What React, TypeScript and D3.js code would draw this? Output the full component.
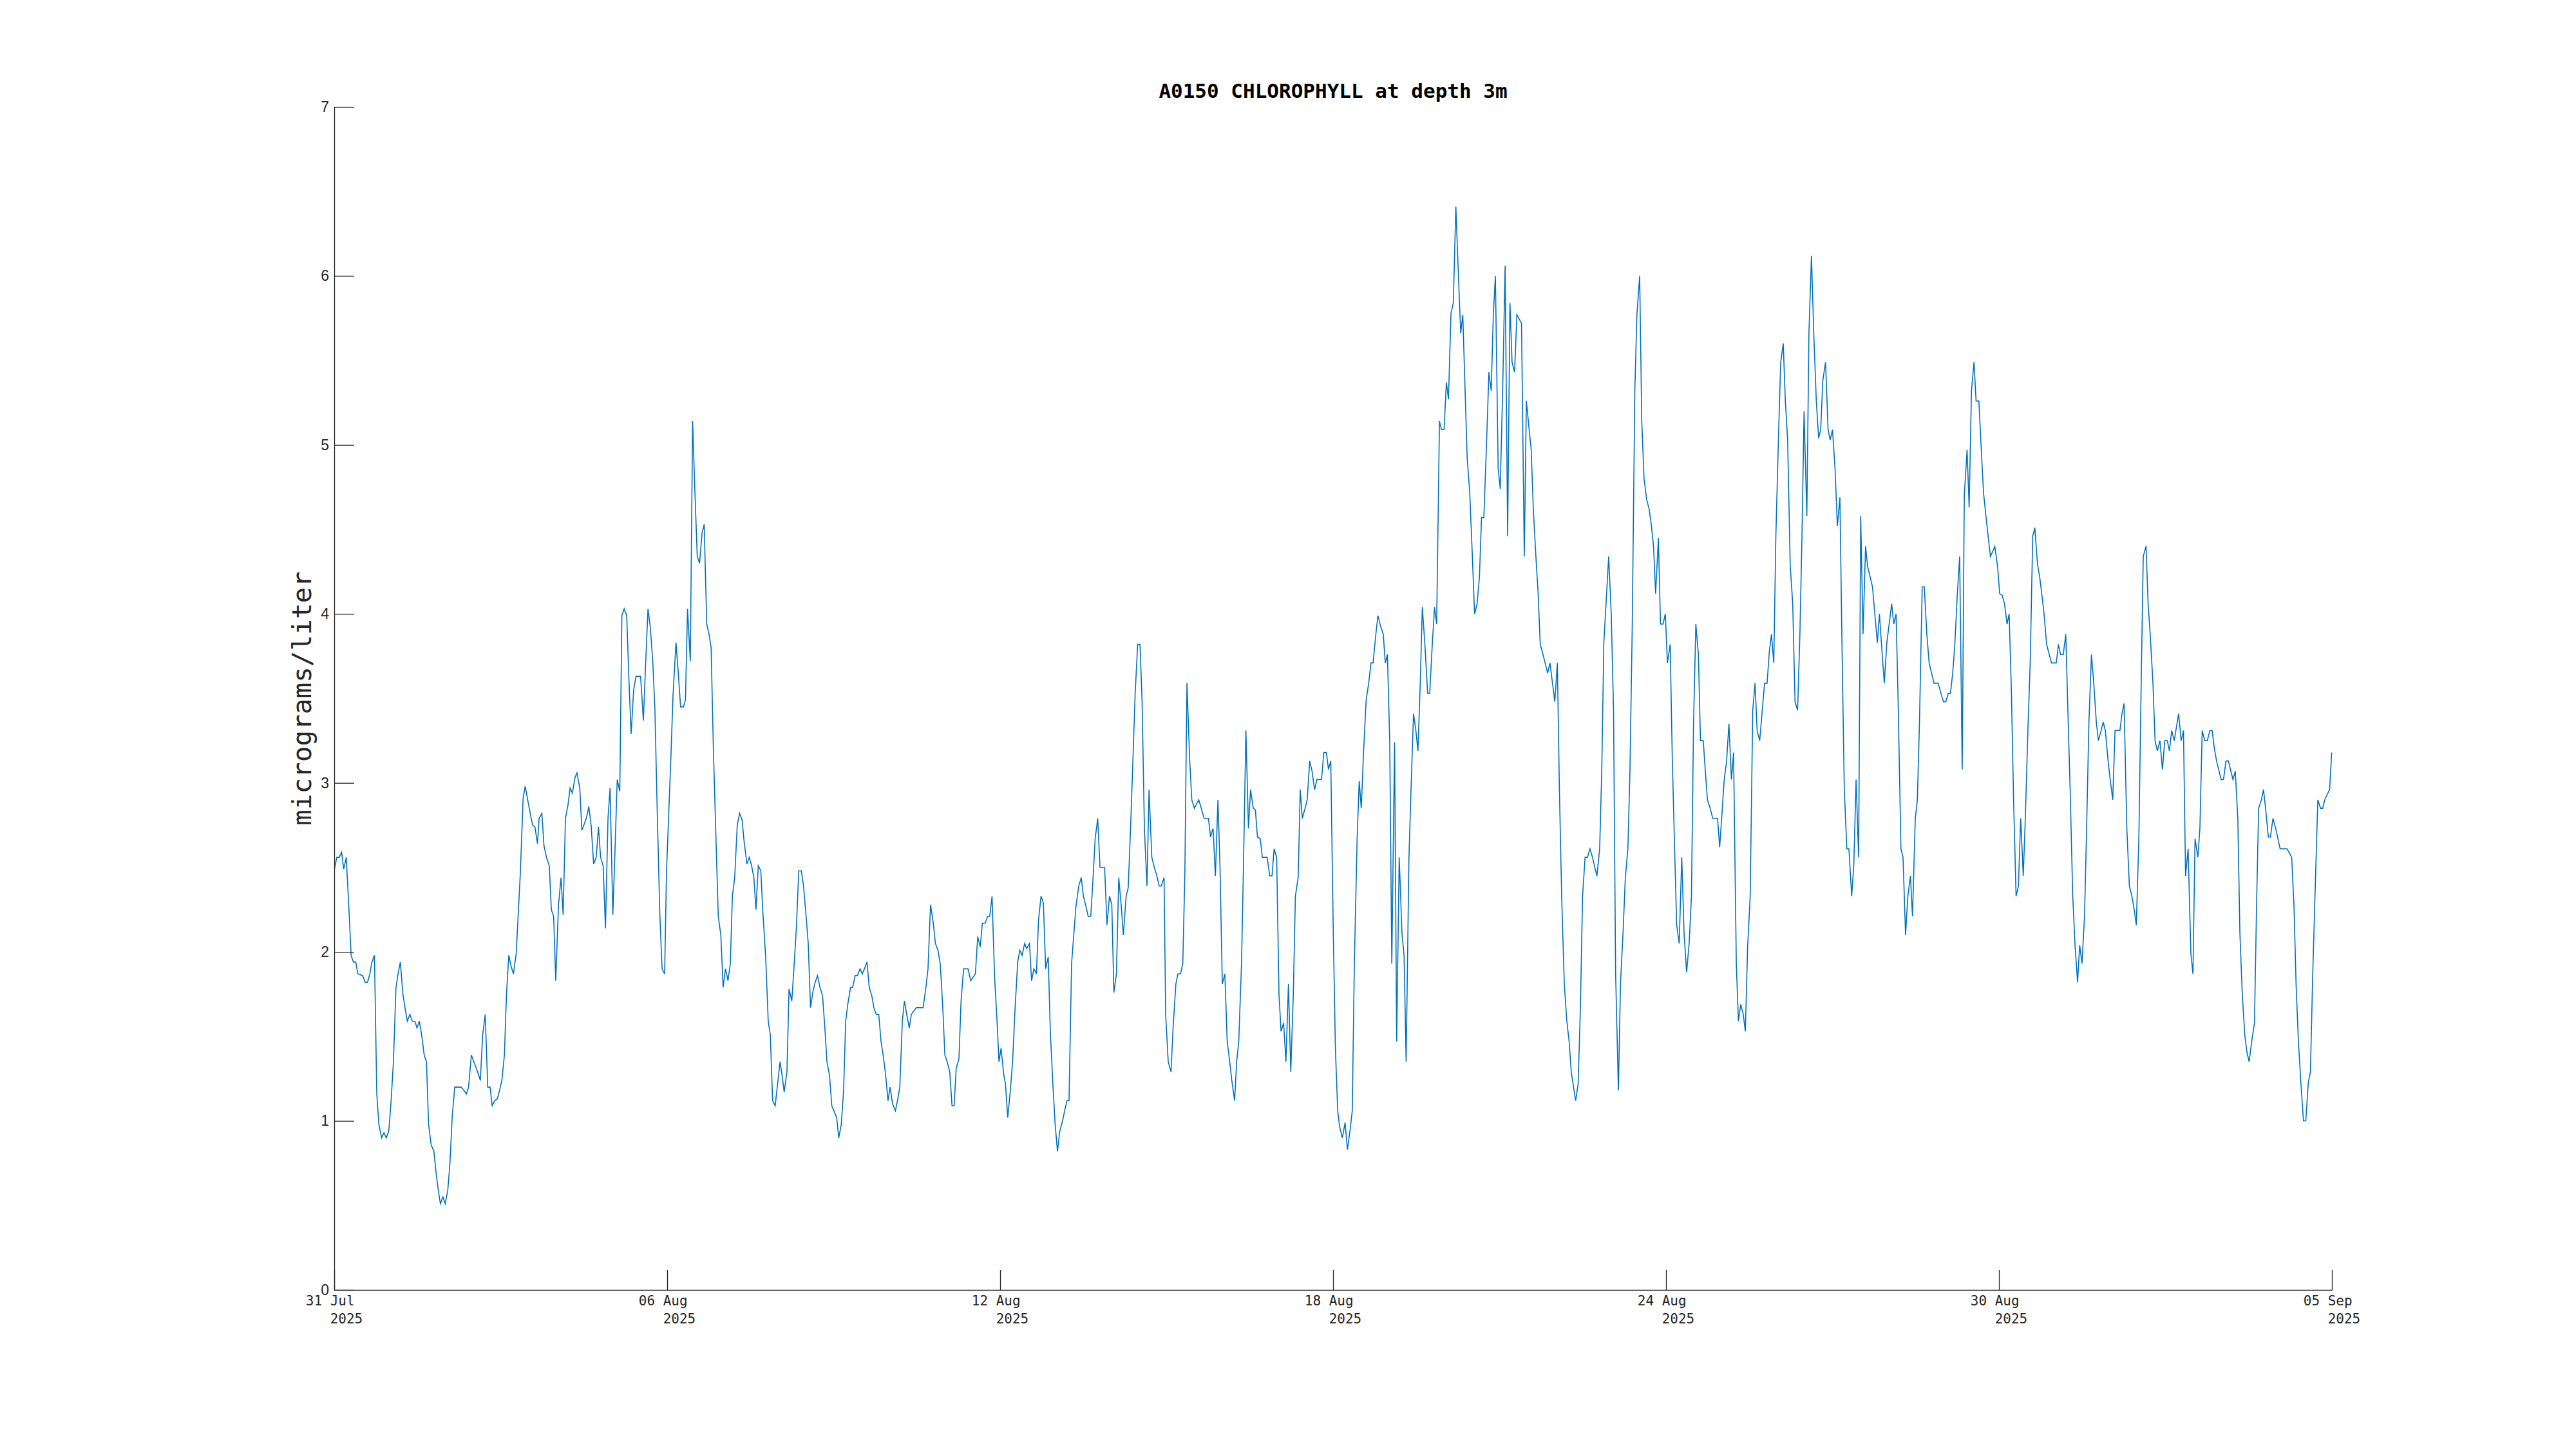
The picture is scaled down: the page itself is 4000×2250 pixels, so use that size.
import React, { useEffect, useRef } from 'react';
import * as d3 from 'd3';

// hours since 31 Jul 2025 00:00 UTC
const hours = [
  0.1, 1.1, 2.2, 3.2, 4.1, 5.2, 6.3, 7.3, 8.3, 9.3, 10.2, 12.3, 13.4, 14.4, 15.4, 16.3, 17.4, 18.4, 19.3, 20.5,
  21.5, 22.5, 23.6, 24.6, 25.6, 26.7, 27.6, 28.6, 29.7, 30.6, 31.6, 32.7, 33.8, 34.9, 35.8, 36.8, 37.8, 38.9, 39.9, 40.8,
  41.9, 43.1, 44.0, 45.0, 45.9, 47.0, 48.0, 49.1, 50.0, 51.0, 52.1, 54.9, 56.1, 57.2, 58.1, 59.3, 60.4, 61.5, 63.2, 64.2,
  65.3, 66.4, 67.4, 68.3, 69.4, 70.5, 71.5, 72.5, 73.6, 74.5, 75.5, 76.6, 77.5, 78.7, 79.6, 80.5, 81.7, 82.6, 83.8, 84.9,
  85.8, 86.8, 87.9, 88.6, 89.8, 90.7, 91.8, 93.0, 93.9, 94.9, 95.8, 97.0, 98.1, 99.0, 100.0, 101.1, 102.0, 103.0, 104.1, 105.0,
  106.2, 107.1, 108.2, 109.2, 110.1, 111.1, 112.2, 113.3, 114.3, 115.2, 116.3, 117.3, 118.4, 119.3, 120.5, 121.4, 122.4, 123.5, 124.4, 125.4,
  126.5, 127.4, 128.4, 129.5, 130.5, 132.5, 133.7, 134.6, 135.7, 136.7, 137.8, 138.7, 139.7, 140.8, 141.8, 142.9,
  143.7, 144.7, 145.6, 146.5, 147.8, 148.7, 149.8, 151.0, 151.9, 152.8, 154.0, 155.0, 156.0, 157.0, 158.0, 159.1, 160.0, 161.1, 162.1, 163.0,
  164.0, 165.1, 166.1, 167.2, 168.2, 169.2, 170.3, 171.3, 172.2, 173.2, 174.3, 175.3, 176.4, 177.3, 178.5, 179.5, 180.5, 181.5, 182.4, 183.4,
  184.5, 185.4, 186.6, 187.7, 188.6, 189.6, 190.7, 191.6, 192.8, 193.7, 194.6, 195.8, 196.7, 197.9, 198.8, 199.9, 200.9, 202.0, 202.9, 204.1,
  205.0, 206.0, 207.1, 208.0, 209.0, 210.1, 211.2, 212.2, 213.1, 214.2, 215.2, 216.1, 217.3, 218.2, 219.3, 220.3, 221.2, 222.1, 223.3, 224.2,
  225.3, 226.3, 227.4, 228.4, 229.3, 230.4, 231.4, 232.5, 233.4, 234.4, 235.5, 236.5, 237.6, 238.5, 239.5, 240.4, 241.5, 242.7, 243.6, 244.6,
  245.7, 246.6, 247.6, 248.7, 249.6, 251.7, 254.7, 255.9, 256.8, 257.9, 259.1, 260.0, 261.1, 262.1, 263.2, 264.1, 265.1, 266.2, 267.2, 268.1,
  269.0, 270.2, 271.1, 272.2, 274.1, 275.3, 277.3, 278.3, 279.4, 280.3, 281.5, 282.6, 283.5, 284.5, 285.6, 286.6, 287.5, 288.4, 289.6,
  290.3, 291.3, 292.4, 293.4, 294.4, 295.6, 296.5, 297.5, 298.6, 299.5, 300.7, 301.6, 302.6, 303.7, 304.6, 305.7, 306.7, 307.7, 308.8, 309.7,
  310.8, 311.8, 312.8, 313.8, 315.0, 315.9, 316.9, 317.8, 318.9, 319.9, 320.8, 322.0, 323.1, 324.0, 325.1, 326.1, 327.2, 328.2, 329.1, 330.2,
  331.2, 333.2, 334.2, 335.3, 336.3, 337.2, 338.3, 339.3, 340.4, 341.3, 342.5, 343.4, 344.4, 345.3, 346.4, 347.5, 348.5, 349.4, 350.4, 351.5,
  352.4, 353.6, 354.7, 355.8, 356.8, 357.7, 358.9, 359.6, 360.7, 361.9, 362.8, 364.0, 364.9, 366.0, 367.0, 367.9, 368.8, 370.0, 370.9, 372.0,
  373.9, 375.0, 376.2, 378.1, 379.0, 380.1, 381.1, 382.2, 383.1, 384.1, 385.2, 386.2, 387.3, 388.2, 389.4, 390.3, 391.2, 392.4, 393.3, 394.3,
  395.4, 396.3, 397.5, 398.4, 399.3, 400.5, 401.4, 403.5, 404.6, 405.6, 406.5, 407.6, 408.6, 409.5, 410.6, 411.6, 412.7, 413.7, 414.8, 415.7,
  416.9, 417.8, 418.7, 419.9, 420.8, 421.9, 422.9, 424.0, 425.0, 427.0, 428.0, 429.1, 430.0, 431.0, 432.1, 433.0, 434.0, 434.7,
  435.1, 436.0, 437.2, 438.2, 439.3, 440.3, 441.2, 442.4, 443.3, 444.2, 445.2, 446.3, 447.4, 448.4, 449.3, 450.5, 451.4, 452.5, 453.7, 454.6,
  455.5, 456.5, 457.4, 458.6, 459.5, 460.6, 461.8, 462.7, 463.6, 464.8, 465.7, 466.8, 467.8, 468.7, 469.7, 470.6, 471.7, 472.9, 473.8, 474.9,
  475.9, 476.8, 478.0, 478.9, 480.0, 481.0, 481.9, 483.0, 484.0, 485.1, 486.0, 487.2, 488.1, 489.1, 490.0, 491.1, 492.3, 493.2, 494.3, 495.3,
  496.2, 497.2, 498.3, 499.4, 500.4, 501.3, 502.2, 503.4, 504.3, 505.4, 506.4, 507.5, 508.5, 509.4, 510.5, 511.5, 513.5, 514.7, 515.6, 516.6,
  517.7, 518.6, 519.8, 520.7, 521.6, 522.8, 523.7, 524.8, 525.8, 526.9, 527.9, 529.0, 529.9, 530.9, 532.0, 533.1, 534.1, 535.0, 535.9, 536.9,
  538.0, 539.0, 539.9, 541.0, 542.0, 543.1, 544.2, 545.2, 546.1, 547.3, 548.2, 549.1, 550.3, 551.2, 552.3, 553.3, 554.2, 555.4, 556.3, 557.4,
  558.4, 559.5, 560.4, 561.4, 562.5, 563.4, 564.6, 565.5, 566.5, 567.6, 568.7, 569.7, 570.6, 571.5, 572.7, 573.6, 574.7, 575.7, 576.6, 577.8,
  578.7, 579.6,
  580.6, 581.7, 582.8, 583.8, 584.9, 586.0, 587.0, 587.9, 588.9, 590.0, 590.9, 592.1, 593.0, 593.9, 595.1, 596.2, 598.3, 599.2, 600.2, 601.1,
  602.2, 603.2, 604.3, 605.2, 606.4, 607.3, 608.3, 609.4, 610.3, 611.3, 612.4, 613.5, 614.5, 615.4, 616.5, 617.5, 618.6, 619.7, 620.7, 621.6,
  622.6, 623.5, 624.6, 625.6, 626.7, 627.6, 628.6, 629.7, 630.8, 631.8, 632.9, 633.9, 634.8, 635.7, 636.9, 637.8, 638.9, 639.9, 641.0, 642.0,
  642.9, 643.8, 645.0, 646.1, 647.0, 648.0, 649.1, 650.1, 651.2, 652.1, 653.1, 654.2, 655.1, 656.3, 657.2, 658.2, 659.3, 660.2, 661.2, 662.3,
  663.2, 665.3, 666.3, 667.4, 668.3, 669.5, 670.4, 671.5, 672.5, 673.6, 674.5, 675.5, 676.4, 677.6, 678.5, 679.6, 680.6, 681.7, 682.6, 683.8,
  684.7, 685.6, 686.8, 687.7, 688.8, 689.8, 691.9, 693.7, 694.9, 696.0, 697.0, 698.1, 699.0, 700.0, 700.9, 702.0, 703.0, 704.1, 705.0, 706.2,
  707.1, 708.1, 709.2, 710.1, 711.3, 712.4, 713.3, 714.5, 715.4, 716.3, 717.3, 718.2, 719.4, 720.3, 721.4, 722.4, 723.5, 724.4,
  725.4, 726.3, 727.4, 728.4, 729.4, 730.5, 731.4, 732.5, 733.5, 734.6, 735.5, 736.7, 737.6, 738.5, 739.5, 740.6, 742.7, 744.8, 745.7, 746.6,
  747.8, 748.9, 749.8, 750.8, 751.9, 752.9, 754.0, 754.9, 755.9, 757.0, 757.9, 758.9, 760.0, 761.0, 762.1, 763.0, 764.2, 765.1, 766.0, 767.2,
  768.1, 769.2, 770.2, 772.3, 773.2, 774.1, 775.3, 776.4, 777.5, 778.5, 779.4, 780.5, 781.5, 782.4, 783.6, 784.5, 785.4, 786.6, 787.5, 788.5,
  789.6, 790.7, 791.7, 792.8, 793.7, 794.7, 795.8, 797.7, 798.8, 799.8, 800.7, 801.8, 803.0, 803.9, 804.8, 806.0, 806.9, 807.9, 809.0, 810.1,
  811.2, 812.2, 813.1, 814.1, 816.1, 817.1, 818.2, 819.2, 821.2, 822.2, 823.3, 824.2, 825.2, 826.3, 827.2, 828.2, 829.3, 830.5, 831.4, 832.3,
  833.5, 834.4, 835.3, 836.5, 837.4, 838.5, 839.7, 841.6, 844.6, 846.6, 847.6, 848.5, 849.5, 850.6, 851.7, 852.7, 853.8, 854.7, 855.7, 856.8,
  857.9, 859.1, 860.0, 860.9, 861.9, 863.0, 863.9,
];

// chlorophyll, micrograms/liter
const chl = [
  2.49, 2.56, 2.56, 2.59, 2.49, 2.56, 2.27, 1.98, 1.94, 1.94, 1.87, 1.86, 1.82, 1.82, 1.87, 1.94, 1.98, 1.16, 0.98, 0.90,
  0.93, 0.90, 0.94, 1.12, 1.35, 1.79, 1.87, 1.94, 1.75, 1.67, 1.59, 1.63, 1.59, 1.59, 1.55, 1.59, 1.51, 1.39, 1.35, 0.98,
  0.86, 0.82, 0.70, 0.59, 0.51, 0.55, 0.51, 0.59, 0.74, 1.02, 1.20, 1.20, 1.18, 1.16, 1.20, 1.39, 1.35, 1.31, 1.24, 1.51,
  1.63, 1.20, 1.20, 1.09, 1.12, 1.13, 1.18, 1.24, 1.39, 1.75, 1.98, 1.91, 1.87, 1.99, 2.23, 2.47, 2.91, 2.98, 2.89, 2.81,
  2.75, 2.74, 2.64, 2.79, 2.82, 2.63, 2.56, 2.51, 2.25, 2.21, 1.83, 2.28, 2.44, 2.22, 2.79, 2.87, 2.97, 2.94, 3.03, 3.06,
  2.97, 2.72, 2.76, 2.80, 2.86, 2.75, 2.52, 2.56, 2.74, 2.56, 2.51, 2.14, 2.79, 2.97, 2.22, 2.59, 3.02, 2.95, 3.99, 4.03,
  3.99, 3.63, 3.29, 3.55, 3.63, 3.63, 3.37, 3.68, 4.03, 3.92, 3.71, 3.43, 2.83, 2.23, 1.90, 1.87,
  2.47, 2.83, 3.15, 3.51, 3.83, 3.67, 3.45, 3.45, 3.49, 4.03, 3.72, 5.14, 4.72, 4.34, 4.30, 4.48, 4.53, 3.94, 3.88, 3.80,
  3.19, 2.67, 2.21, 2.10, 1.79, 1.90, 1.83, 1.93, 2.33, 2.44, 2.75, 2.82, 2.78, 2.65, 2.52, 2.56, 2.51, 2.44, 2.25, 2.51,
  2.48, 2.23, 1.97, 1.59, 1.51, 1.12, 1.09, 1.20, 1.35, 1.27, 1.17, 1.29, 1.78, 1.71, 1.90, 2.15, 2.48, 2.48, 2.40, 2.21,
  2.05, 1.67, 1.77, 1.82, 1.86, 1.79, 1.74, 1.55, 1.35, 1.27, 1.09, 1.06, 1.02, 0.90, 0.98, 1.18, 1.59, 1.69, 1.79, 1.79,
  1.86, 1.86, 1.90, 1.87, 1.90, 1.94, 1.79, 1.74, 1.67, 1.63, 1.63, 1.47, 1.37, 1.27, 1.12, 1.20, 1.10, 1.06, 1.12, 1.20,
  1.59, 1.71, 1.63, 1.55, 1.63, 1.67, 1.67, 1.79, 1.90, 2.28, 2.17, 2.05, 2.01, 1.93, 1.67, 1.39, 1.35, 1.29, 1.09, 1.09,
  1.31, 1.37, 1.71, 1.90, 1.90, 1.83, 1.87, 2.09, 2.03, 2.17, 2.17, 2.21, 2.21, 2.33, 1.85, 1.61, 1.35, 1.43, 1.27,
  1.22, 1.02, 1.18, 1.35, 1.65, 1.94, 2.01, 1.98, 2.05, 2.02, 2.05, 1.83, 1.90, 1.87, 2.19, 2.33, 2.29, 1.90, 1.97, 1.53,
  1.22, 0.98, 0.82, 0.94, 1.00, 1.06, 1.12, 1.12, 1.93, 2.11, 2.27, 2.39, 2.44, 2.33, 2.27, 2.21, 2.21, 2.44, 2.67, 2.79,
  2.50, 2.50, 2.16, 2.33, 2.28, 1.76, 1.87, 2.44, 2.27, 2.10, 2.33, 2.38, 2.73, 3.08, 3.53, 3.82, 3.82, 3.48, 2.73, 2.39,
  2.96, 2.56, 2.50, 2.45, 2.39, 2.39, 2.44, 1.63, 1.35, 1.29, 1.55, 1.81, 1.87, 1.87, 1.93, 2.47, 3.59, 3.13, 2.90, 2.85,
  2.90, 2.85, 2.79, 2.79, 2.68, 2.73, 2.45, 2.90, 2.50, 1.81, 1.87, 1.47, 1.35, 1.24, 1.12, 1.35, 1.47, 1.93, 2.55, 3.31,
  2.73, 2.96, 2.85, 2.84, 2.68, 2.67, 2.56, 2.56, 2.45, 2.45, 2.61, 2.56, 1.75, 1.53, 1.58, 1.35, 1.81, 1.29, 1.75, 2.33,
  2.44, 2.96, 2.79, 2.85, 2.90, 3.13, 3.07, 2.96, 3.02, 3.02, 3.18, 3.18, 3.08, 3.13, 2.11, 1.43, 1.06, 0.98,
  0.95, 0.90, 0.99, 0.83, 0.94, 1.06, 1.93, 2.67, 3.01, 2.85, 3.19, 3.49, 3.59, 3.71, 3.71, 3.88, 3.99, 3.93, 3.88, 3.71,
  3.76, 3.25, 1.93, 3.24, 1.47, 2.56, 2.11, 1.98, 1.35, 2.55, 2.96, 3.41, 3.31, 3.19, 3.59, 4.04, 3.82, 3.53, 3.53, 3.82,
  4.04, 3.94, 5.14, 5.09, 5.09, 5.37, 5.27, 5.78, 5.84, 6.41, 6.08, 5.66, 5.77, 5.32, 4.92, 4.72, 4.32, 4.00, 4.06, 4.22,
  4.57, 4.57, 4.98, 5.43, 5.32, 5.77, 6.00, 4.86, 4.74, 5.36, 6.06, 4.46, 5.84, 5.49, 5.43, 5.77, 5.72, 4.34, 5.26, 5.12,
  4.97, 4.62, 4.32, 4.12, 3.82, 3.76, 3.71, 3.65, 3.71, 3.59, 3.48, 3.71, 2.95, 2.31, 1.81, 1.59, 1.47, 1.29, 1.21, 1.12,
  1.22, 1.69, 2.33, 2.56, 2.56, 2.61, 2.56, 2.50, 2.45, 2.61, 3.07, 3.83, 4.12, 4.34, 4.00, 3.43, 1.87, 1.18, 1.81, 2.11,
  2.44, 2.61, 3.07, 3.94, 5.32, 5.77, 6.00, 5.14, 4.80, 4.68, 4.62, 4.52, 4.40, 4.12, 4.45, 3.94, 3.94, 4.00, 3.71, 3.82,
  3.15, 2.67,
  2.16, 2.05, 2.56, 2.11, 1.88, 2.05, 2.33, 3.35, 3.94, 3.76, 3.25, 3.25, 3.07, 2.90, 2.85, 2.79, 2.79, 2.62, 2.82, 3.01,
  3.13, 3.35, 3.02, 3.18, 1.93, 1.59, 1.69, 1.63, 1.53, 2.03, 2.33, 3.43, 3.59, 3.31, 3.25, 3.41, 3.59, 3.59, 3.78, 3.88,
  3.71, 4.46, 5.03, 5.49, 5.60, 5.26, 5.03, 4.29, 4.06, 3.48, 3.43, 3.88, 4.46, 5.20, 4.58, 5.66, 6.12, 5.66, 5.26, 5.04,
  5.09, 5.38, 5.49, 5.09, 5.03, 5.09, 4.86, 4.52, 4.69, 3.82, 2.96, 2.61, 2.61, 2.33, 2.51, 3.02, 2.56, 4.58, 3.88, 4.40,
  4.28, 4.16, 4.00, 3.83, 4.00, 3.76, 3.59, 3.83, 3.94, 4.06, 3.94, 4.00, 3.47, 2.61, 2.56, 2.10, 2.33, 2.45, 2.21, 2.79,
  2.90, 3.35, 4.16, 4.16, 3.88, 3.71, 3.59, 3.59, 3.53, 3.48, 3.48, 3.53, 3.53, 3.65, 3.82, 4.12, 4.34, 3.08, 4.70, 4.97,
  4.63, 5.32, 5.49, 5.26, 5.26, 4.96, 4.72, 4.56, 4.45, 4.34, 4.37, 4.40, 4.28, 4.12, 4.11, 4.06, 3.94, 4.00,
  3.53, 2.91, 2.33, 2.39, 2.79, 2.45, 2.79, 3.31, 3.71, 4.46, 4.51, 4.29, 4.22, 4.12, 4.00, 3.82, 3.71, 3.71, 3.82, 3.76,
  3.76, 3.88, 3.43, 2.95, 2.33, 2.04, 1.82, 2.04, 1.93, 2.21, 2.73, 3.36, 3.76, 3.59, 3.36, 3.25, 3.31, 3.36, 3.31, 3.13,
  3.02, 2.90, 3.31, 3.31, 3.41, 3.47, 2.73, 2.39, 2.33, 2.25, 2.16, 2.67, 3.59, 4.34, 4.40, 4.06, 3.88, 3.59, 3.25, 3.19,
  3.25, 3.08, 3.25, 3.25, 3.19, 3.31, 3.25, 3.41, 3.25, 3.31, 2.45, 2.61, 1.99, 1.87, 2.67, 2.56, 2.73, 3.31, 3.25, 3.25,
  3.31, 3.31, 3.21, 3.13, 3.02, 3.02, 3.13, 3.13, 3.02, 3.07, 2.79, 2.11, 1.76, 1.51, 1.41, 1.35, 1.47, 1.58, 2.27, 2.85,
  2.90, 2.96, 2.85, 2.68, 2.68, 2.79, 2.73, 2.61, 2.61, 2.56, 2.27, 1.81, 1.47, 1.22, 1.00, 1.00, 1.23, 1.29, 1.87, 2.39,
  2.90, 2.85, 2.85, 2.90, 2.93, 2.96, 3.18,
];

const tickDates = ['2025-07-31', '2025-08-06', '2025-08-12', '2025-08-18', '2025-08-24', '2025-08-30', '2025-09-05'];
const yTicks = [0, 1, 2, 3, 4, 5, 6, 7];

const title = 'A0150 CHLOROPHYLL at depth 3m';
const yLabel = 'micrograms/liter';
const startMs = Date.UTC(2025, 6, 31);

const axisColor = '#262626';
const mono = "'DejaVu Sans Mono', monospace";

export default function App() {
  const ref = useRef<SVGSVGElement>(null);

  useEffect(() => {
    const svg = d3.select(ref.current);
    svg.selectAll('*').remove();

    const left = 519;
    const top = 166;
    const width = 3102;
    const height = 1837;

    const parse = d3.utcParse('%Y-%m-%d');
    const ticks = tickDates.map((d) => parse(d) as Date);

    const x = d3.scaleUtc()
      .domain([ticks[0], ticks[ticks.length - 1]])
      .range([0, width]);

    const y = d3.scaleLinear()
      .domain([0, 7])
      .range([height, 0]);

    const data = hours.map((h, i) => ({ t: new Date(startMs + h * 3600 * 1000), v: chl[i] }));

    const chart = svg.append('g')
      .attr('transform', `translate(${left}, ${top})`);

    // data line
    const line = d3.line<{ t: Date; v: number }>()
      .x((d) => x(d.t))
      .y((d) => y(d.v));

    chart.append('path')
      .datum(data)
      .attr('fill', 'none')
      .attr('stroke', '#0072BD')
      .attr('stroke-width', 1.6)
      .attr('stroke-linejoin', 'miter')
      .attr('d', line);

    // x axis, ticks pointing inward, labels drawn separately
    const xAxis = chart.append('g')
      .attr('transform', `translate(0, ${height})`)
      .call(d3.axisBottom(x).tickValues(ticks).tickSizeInner(-31).tickSizeOuter(0).tickFormat(() => ''));

    // y axis
    const yAxis = chart.append('g')
      .call(d3.axisLeft(y).tickValues(yTicks).tickSizeInner(-31).tickSizeOuter(0).tickPadding(8).tickFormat(d3.format('d')));

    [xAxis, yAxis].forEach((a) => {
      a.select('.domain').attr('stroke', axisColor).attr('stroke-width', 1.3);
      a.selectAll('.tick line').attr('stroke', axisColor).attr('stroke-width', 1.3);
    });

    yAxis.selectAll('.tick text')
      .attr('fill', axisColor)
      .style('font-family', "'Liberation Sans', Arial, sans-serif")
      .style('font-size', '23px');

    // two-line date labels
    const fmtDay = d3.utcFormat('%d %b');
    const fmtYear = d3.utcFormat('%Y');
    const cw = 21 * 0.602;
    const labels = chart.append('g')
      .attr('fill', axisColor)
      .style('font-family', mono)
      .style('font-size', '21px');

    labels.selectAll('text.day')
      .data(ticks)
      .enter()
      .append('text')
      .attr('class', 'day')
      .attr('x', (d) => x(d) - 3.5 * cw)
      .attr('y', height + 24)
      .text((d) => fmtDay(d));

    labels.selectAll('text.year')
      .data(ticks)
      .enter()
      .append('text')
      .attr('class', 'year')
      .attr('x', (d) => x(d) - 0.5 * cw)
      .attr('y', height + 52)
      .text((d) => fmtYear(d));

    // y label
    svg.append('text')
      .attr('transform', `translate(483, ${top + height / 2}) rotate(-90)`)
      .attr('text-anchor', 'middle')
      .attr('fill', axisColor)
      .style('font-family', mono)
      .style('font-size', '41px')
      .text(yLabel);

    // title
    svg.append('text')
      .attr('x', left + width / 2)
      .attr('y', 152)
      .attr('text-anchor', 'middle')
      .attr('fill', '#000000')
      .style('font-family', mono)
      .style('font-weight', 'bold')
      .style('font-size', '31px')
      .text(title);
  }, []);

  return (
    <svg
      ref={ref}
      width={4000}
      height={2250}
      viewBox="0 0 4000 2250"
      style={{ position: 'absolute', left: 0, top: 0, background: '#ffffff' }}
    />
  );
}
